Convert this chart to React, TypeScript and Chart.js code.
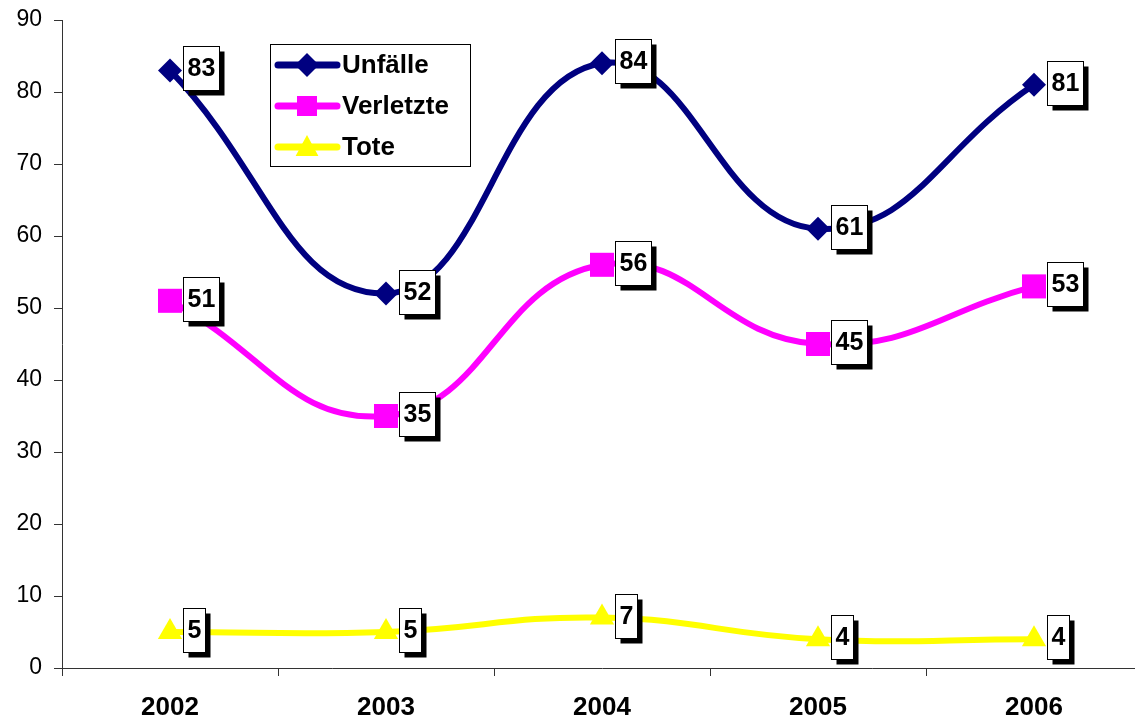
import React, { useEffect, useRef } from "react";
import { Chart, registerables } from "chart.js";

Chart.register(...registerables);

const years = ["2002", "2003", "2004", "2005", "2006"];
const unfaelle = [83, 52, 84, 61, 81];
const verletzte = [51, 35, 56, 45, 53];
const tote = [5, 5, 7, 4, 4];
const yTicks = [0, 10, 20, 30, 40, 50, 60, 70, 80, 90];

const FONT = "'Liberation Sans', Arial, sans-serif";
const CW = 1159;

function drawMarker(ctx: CanvasRenderingContext2D, style: string, x: number, y: number, r: number, color: string) {
  ctx.save();
  ctx.fillStyle = color;
  ctx.beginPath();
  if (style === "rectRot") {
    ctx.moveTo(x, y - r);
    ctx.lineTo(x + r, y);
    ctx.lineTo(x, y + r);
    ctx.lineTo(x - r, y);
  } else if (style === "rect") {
    ctx.rect(x - r, y - r, 2 * r, 2 * r);
  } else {
    ctx.moveTo(x, y - r);
    ctx.lineTo(x + r * 0.95, y + r * 0.75);
    ctx.lineTo(x - r * 0.95, y + r * 0.75);
  }
  ctx.closePath();
  ctx.fill();
  ctx.restore();
}

const labelPlugin = {
  id: "boxLabels",
  afterDatasetsDraw(chart: any) {
    const ctx: CanvasRenderingContext2D = chart.ctx;
    ctx.save();
    ctx.font = `bold 25px ${FONT}`;
    chart.data.datasets.forEach((ds: any, i: number) => {
      const meta = chart.getDatasetMeta(i);
      meta.data.forEach((pt: any, j: number) => {
        const txt = String(ds.data[j]);
        const tw = ctx.measureText(txt).width;
        const w = Math.round(tw + 8);
        const h = 44;
        const bx = Math.round(pt.x + 13) + 0.5;
        const by = Math.round(pt.y - 24) + 0.5;
        ctx.fillStyle = "#000";
        ctx.fillRect(bx + 5, by + 5, w, h);
        ctx.fillStyle = "#fff";
        ctx.fillRect(bx, by, w, h);
        ctx.strokeStyle = "#000";
        ctx.lineWidth = 1;
        ctx.strokeRect(bx, by, w, h);
        ctx.fillStyle = "#000";
        ctx.textAlign = "center";
        ctx.textBaseline = "middle";
        ctx.fillText(txt, bx + w / 2, by + h / 2 + 1);
      });
    });
    ctx.restore();
  },
};

const legendPlugin = {
  id: "boxLegend",
  afterDraw(chart: any) {
    const ctx: CanvasRenderingContext2D = chart.ctx;
    ctx.save();
    ctx.fillStyle = "#fff";
    ctx.fillRect(270.5, 44.5, 200, 122);
    ctx.strokeStyle = "#000";
    ctx.lineWidth = 1;
    ctx.strokeRect(270.5, 44.5, 200, 122);
    const items = [
      { label: "Unfälle", color: "#000080", style: "rectRot", r: 12, y: 65 },
      { label: "Verletzte", color: "#FF00FF", style: "rect", r: 10, y: 106 },
      { label: "Tote", color: "#FFFF00", style: "triangle", r: 12, y: 147 },
    ];
    items.forEach((it) => {
      ctx.strokeStyle = it.color;
      ctx.lineWidth = 7;
      ctx.lineCap = "round";
      ctx.beginPath();
      ctx.moveTo(278, it.y);
      ctx.lineTo(337, it.y);
      ctx.stroke();
      drawMarker(ctx, it.style, 307, it.y, it.r, it.color);
      ctx.fillStyle = "#000";
      ctx.font = `bold 26px ${FONT}`;
      ctx.textAlign = "left";
      ctx.textBaseline = "middle";
      ctx.fillText(it.label, 342, it.y + 1);
    });
    ctx.restore();
  },
};

export default function App() {
  const ref = useRef<HTMLCanvasElement>(null);
  useEffect(() => {
    document.documentElement.style.overflow = "hidden";
    document.body.style.overflow = "hidden";
    const chart = new Chart(ref.current!, {
      type: "line",
      data: {
        labels: years,
        datasets: [
          {
            label: "Unfälle",
            data: unfaelle,
            borderColor: "#000080",
            backgroundColor: "#000080",
            borderWidth: 6,
            pointStyle: "rectRot",
            pointRadius: 12,
            pointBorderWidth: 0,
            tension: 0.45,
          },
          {
            label: "Verletzte",
            data: verletzte,
            borderColor: "#FF00FF",
            backgroundColor: "#FF00FF",
            borderWidth: 6,
            pointStyle: "rect",
            pointRadius: 17,
            pointBorderWidth: 0,
            tension: 0.45,
          },
          {
            label: "Tote",
            data: tote,
            borderColor: "#FFFF00",
            backgroundColor: "#FFFF00",
            borderWidth: 6,
            pointStyle: "triangle",
            pointRadius: 14,
            pointBorderWidth: 0,
            tension: 0.45,
          },
        ],
      },
      options: {
        animation: false,
        responsive: false,
        layout: { padding: { top: 20, right: 0, left: 0, bottom: 0 } },
        plugins: { legend: { display: false }, tooltip: { enabled: false } },
        datasets: { line: { clip: false } } as any,
        scales: {
          x: {
            type: "category",
            offset: true,
            grid: { display: true, drawOnChartArea: false, drawTicks: true, tickLength: 8, color: "#333", offset: true },
            border: { display: true, color: "#333", width: 1 },
            ticks: { color: "#000", font: { family: FONT, size: 26, weight: "bold" }, padding: 16, maxRotation: 0 },
            afterFit(scale: any) {
              scale.height = 56;
            },
          },
          y: {
            min: 0,
            max: 90,
            afterBuildTicks(scale: any) {
              scale.ticks = yTicks.map((v) => ({ value: v }));
            },
            grid: { display: true, drawOnChartArea: false, drawTicks: true, tickLength: 8, color: "#333" },
            border: { display: true, color: "#333", width: 1 },
            ticks: { color: "#000", font: { family: FONT, size: 23 }, padding: 12 },
            afterFit(scale: any) {
              scale.width = 62;
              scale.paddingTop = 0;
              scale.paddingBottom = 0;
            },
          },
        },
      },
      plugins: [labelPlugin, legendPlugin],
    });
    return () => chart.destroy();
  }, []);
  return (
    <div style={{ position: "absolute", left: 0, top: 0, width: CW, height: 724 }}>
      <canvas ref={ref} width={CW} height={724} style={{ display: "block", width: CW, height: 724 }} />
    </div>
  );
}
